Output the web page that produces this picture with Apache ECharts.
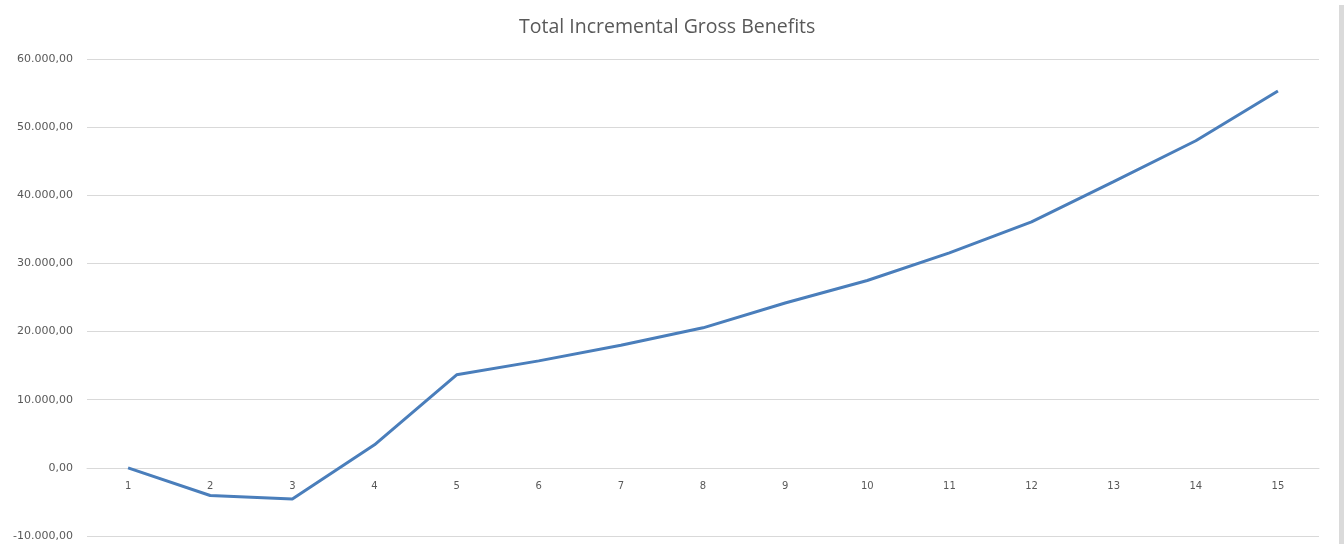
<!DOCTYPE html>
<html>
<head>
<meta charset="utf-8">
<title>Total Incremental Gross Benefits</title>
<script src="https://cdn.jsdelivr.net/npm/echarts@6/dist/echarts.min.js"></script>
<style>
  html, body { margin: 0; padding: 0; background: #ffffff; }
  #chart { width: 1344px; height: 544px; }
</style>
</head>
<body>
<div id="chart"></div>
<script>
// Years of the project horizon
const years = ['1','2','3','4','5','6','7','8','9','10','11','12','13','14','15'];
// Total incremental gross benefits per year
const benefits = [0, -4050, -4560, 3380, 13650, 15700, 18000, 20550, 24200, 27500, 31550, 36100, 42000, 48000, 55300];
// Value axis range
const yMin = -10000;
const yMax = 60000;
const yStep = 10000;

// Plot area
const gridTop = 59;
const gridBottom = 8;
const gridHeight = 544 - gridTop - gridBottom;
// Lift the category axis up to the zero line of the value axis
const zeroOffset = -gridHeight * (0 - yMin) / (yMax - yMin);

// Formats numbers as 60.000,00
function fmt(v) {
  const neg = v < 0;
  const s = Math.abs(Math.round(v)).toString().replace(/\B(?=(\d{3})+(?!\d))/g, '.');
  return (neg ? '-' : '') + s + ',00';
}

const chart = echarts.init(document.getElementById('chart'), null, { renderer: 'canvas' });
chart.setOption({
  backgroundColor: '#ffffff',
  animation: false,
  title: {
    text: 'Total Incremental Gross Benefits',
    left: 514,
    top: 12,
    textStyle: { fontFamily: 'Open Sans', fontSize: 19.5, fontWeight: 'normal', color: '#595959' }
  },
  grid: { left: 87, right: 25, top: gridTop, bottom: gridBottom, containLabel: false, outerBoundsMode: 'none' },
  xAxis: {
    type: 'category',
    data: years,
    position: 'bottom',
    offset: zeroOffset,
    boundaryGap: true,
    axisLine: { show: true, onZero: false, lineStyle: { color: '#d9d9d9', width: 1 } },
    axisTick: { show: false },
    axisLabel: { fontFamily: 'DejaVu Sans', fontSize: 10, color: '#595959', margin: 14 },
    splitLine: { show: false }
  },
  yAxis: {
    type: 'value',
    min: yMin,
    max: yMax,
    interval: yStep,
    axisLine: { show: false },
    axisTick: { show: false },
    axisLabel: { fontFamily: 'DejaVu Sans', fontSize: 11, color: '#595959', margin: 14, formatter: fmt },
    splitLine: { show: true, lineStyle: { color: '#d9d9d9', width: 1 } }
  },
  series: [{
    type: 'line',
    data: benefits,
    showSymbol: false,
    symbol: 'none',
    lineStyle: { color: '#4a7ebb', width: 3 },
    itemStyle: { color: '#4a7ebb' }
  }],
  graphic: [{
    type: 'rect',
    shape: { x: 1339, y: 5, width: 5, height: 539 },
    style: { fill: '#dadada' },
    silent: true
  }]
});
</script>
</body>
</html>
